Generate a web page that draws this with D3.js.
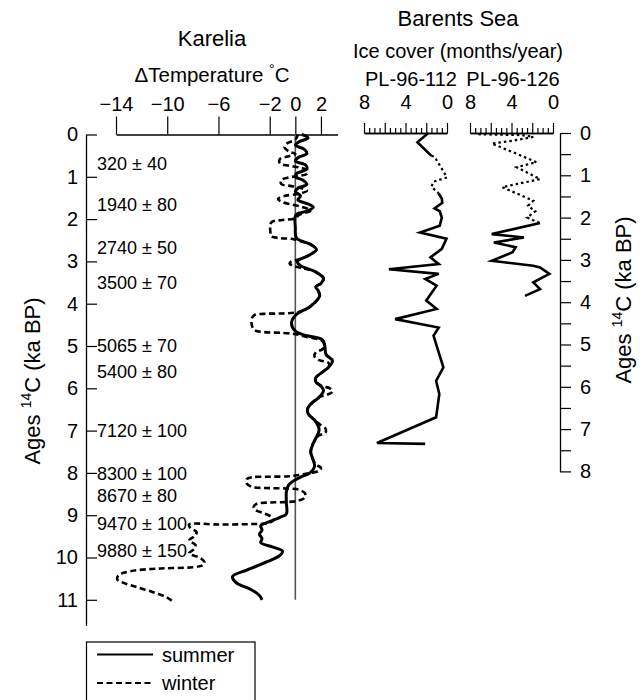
<!DOCTYPE html>
<html><head><meta charset="utf-8">
<script src="https://cdn.jsdelivr.net/npm/d3@7"></script>
<style>
body{margin:0;background:#fff;}
svg text{font-family:"Liberation Sans",Arial,Helvetica,sans-serif;fill:#000;}
</style></head>
<body><svg id="c" width="643" height="700"></svg>
<script>
// ---------- DATA ----------
const tempTicks = [-14, -10, -6, -2, 0, 2];
const ageTicksLeft = [0,1,2,3,4,5,6,7,8,9,10,11];
const ageTicksRight = [0,1,2,3,4,5,6,7,8];
const iceMajorTicks = [8, 6, 4, 2, 0];
const iceLabelTicks = [8, 4, 0];

const dateLabels = ["320 ± 40","1940 ± 80","2740 ± 50","3500 ± 70","5065 ± 70","5400 ± 80","7120 ± 100","8300 ± 100","8670 ± 80","9470 ± 100","9880 ± 150"];
const dateAges = [0.68, 1.65, 2.68, 3.5, 5.0, 5.6, 7.0, 8.02, 8.55, 9.2, 9.85];

const summerAge = [0.00,0.08,0.17,0.25,0.35,0.45,0.55,0.63,0.72,0.82,0.92,1.00,1.08,1.18,1.27,1.35,1.45,1.55,1.62,1.72,1.82,1.90,2.20,2.45,2.60,2.72,2.85,3.00,3.10,3.25,3.40,3.52,3.60,3.70,3.82,3.95,4.10,4.25,4.45,4.65,4.75,4.85,5.00,5.20,5.35,5.50,5.62,5.75,5.85,5.95,6.05,6.20,6.32,6.45,6.60,6.75,6.90,7.00,7.15,7.30,7.50,7.70,7.85,8.00,8.10,8.20,8.30,8.45,8.70,8.97,9.05,9.13,9.25,9.35,9.45,9.55,9.65,9.75,9.85,9.95,10.10,10.30,10.45,10.60,10.75,10.90,11.00];
const summerTemp = [0.5,1.0,0.3,0.0,0.7,0.9,0.2,0.0,0.8,0.9,0.1,0.0,0.6,0.9,0.2,0.0,0.4,0.2,0.8,1.4,0.8,0.05,0.0,0.1,1.2,1.65,1.1,0.15,0.4,1.6,2.2,2.0,1.6,1.8,1.9,1.6,1.0,0.1,-0.3,0.0,0.8,2.1,2.3,2.4,2.9,2.6,2.1,1.6,1.6,2.0,2.2,1.9,1.4,1.0,1.0,1.5,1.8,1.85,1.65,1.4,1.2,1.4,1.5,1.15,0.4,-0.2,-0.55,-0.7,-0.7,-0.7,-1.2,-1.8,-2.7,-2.6,-2.8,-2.6,-2.7,-1.8,-1.0,-1.2,-2.2,-3.8,-4.9,-4.6,-3.5,-2.8,-2.6];

const winterAge = [0.00,0.12,0.20,0.30,0.40,0.46,0.52,0.58,0.68,0.74,0.78,0.85,0.93,0.98,1.02,1.08,1.17,1.22,1.27,1.33,1.40,1.45,1.52,1.60,1.66,1.72,1.80,1.90,1.98,2.02,2.06,2.12,2.30,2.40,2.45,2.47,2.50,2.60,2.72,2.85,2.95,3.00,3.05,3.10,3.15,3.25,3.40,3.52,3.60,3.70,3.82,3.95,4.10,4.20,4.23,4.24,4.27,4.35,4.50,4.62,4.67,4.69,4.72,4.78,4.88,5.00,5.08,5.15,5.25,5.33,5.40,5.50,5.62,5.75,5.85,5.95,6.00,6.08,6.15,6.20,6.32,6.45,6.60,6.75,6.85,6.95,7.05,7.12,7.30,7.50,7.70,7.80,7.88,7.95,8.00,8.05,8.08,8.09,8.10,8.15,8.25,8.33,8.36,8.37,8.40,8.48,8.58,8.66,8.69,8.70,8.73,8.80,8.88,8.95,9.03,9.10,9.18,9.21,9.22,9.22,9.30,9.40,9.50,9.60,9.70,9.80,9.90,10.00,10.10,10.18,10.23,10.26,10.32,10.42,10.52,10.60,10.70,10.82,10.94,11.03];
const winterTemp = [0.2,0.0,-0.6,-0.85,-0.5,0.0,-0.6,-1.2,-1.2,-0.5,0.3,0.95,0.9,0.2,-0.6,-1.1,-1.1,-0.3,0.5,0.9,0.3,-0.8,-1.35,-1.0,-0.2,0.6,1.2,0.3,0.0,-1.0,-1.8,-1.95,-1.95,-1.9,-1.2,-0.2,0.1,1.2,1.65,1.1,0.3,-0.3,-0.45,-0.2,0.4,1.6,2.2,2.0,1.6,1.8,1.9,1.6,1.0,0.2,-1.0,-2.5,-3.2,-3.4,-3.4,-3.2,-2.5,-1.0,0.0,0.8,2.1,2.3,2.1,1.6,1.5,1.8,2.6,2.6,2.1,1.6,1.6,2.1,2.7,2.9,2.5,1.9,1.4,1.0,1.0,1.5,1.9,2.35,2.35,1.8,1.4,1.2,1.4,1.6,2.0,1.9,1.2,0.3,-0.5,-2.0,-3.3,-3.8,-3.8,-3.4,-2.0,-0.5,0.3,0.75,0.75,0.2,-0.8,-2.0,-3.0,-3.25,-3.1,-2.5,-1.9,-1.7,-2.0,-3.5,-6.0,-8.3,-8.2,-7.7,-7.9,-8.3,-7.8,-7.9,-8.3,-7.5,-7.1,-7.2,-8.0,-10.5,-12.8,-13.8,-13.9,-13.4,-12.4,-11.1,-10.05,-9.6];

const pl112SolidAAge = [0.00, 0.22, 0.54];
const pl112SolidAIce = [1.8, 2.85, 1.5];
const pl112DotAge = [0.54, 0.56, 1.05, 1.15, 1.27, 1.43];
const pl112DotIce = [1.5, 1.2, 0.0, 1.3, 1.5, 0.8];
const pl112SolidBAge = [1.43,1.55,1.65,1.78,1.85,2.00,2.19,2.35,2.50,2.74,2.94,3.10,3.22,3.33,3.45,3.61,3.96,4.16,4.40,4.60,4.79,5.54,5.86,6.17,6.72,7.33,7.35];
const pl112SolidBIce = [0.8,0.5,0.45,1.2,0.7,0.5,0.7,2.6,0.05,0.5,1.6,0.8,5.6,0.8,2.1,1.0,2.0,1.0,5.0,0.8,1.3,0.35,1.05,0.74,1.05,6.75,2.1];

const pl126DotAge = [0.03,0.05,0.09,0.18,0.25,0.46,0.69,0.81,1.09,1.28,1.60,1.72,1.85,2.00,2.13];
const pl126DotIce = [7.2,3.0,1.9,3.8,5.9,3.8,1.6,3.5,1.25,4.9,1.9,2.4,1.7,2.5,1.25];
const pl126SolidAge = [2.13,2.39,2.47,2.59,2.70,2.82,3.02,3.14,3.18,3.33,3.53,3.69,3.85];
const pl126SolidIce = [1.25,5.9,2.8,5.7,3.6,3.9,5.9,1.9,1.25,0.35,1.9,1.25,2.7];

// ---------- SCALES ----------
const svg = d3.select("#c");
const ageY = d3.scaleLinear().domain([0, 11.6]).range([134.5, 134.5 + 11.6 * 42.3]);
const ageYR = d3.scaleLinear().domain([0, 8]).range([ageY(0) - 1.5, ageY(8) - 1.5]);
const tempX = d3.scaleLinear().domain([-14, 3.3]).range([116, 337.6]);
const ice1X = d3.scaleLinear().domain([8, 0]).range([364, 447]);
const ice2X = d3.scaleLinear().domain([8, 0]).range([470, 553]);

const FS_TICK = 20;

function styleAxis(g, fs) {
  g.selectAll("path.domain").attr("stroke", "#000").attr("stroke-width", 1.3);
  g.selectAll(".tick line").attr("stroke", "#000").attr("stroke-width", 1.2);
  g.selectAll("text").attr("font-size", fs).attr("font-family", null).attr("fill", "#000");
}

// ---------- LEFT AGE AXIS ----------
const gL = svg.append("g").attr("transform", "translate(86,0)")
  .call(d3.axisLeft(ageY).tickValues(ageTicksLeft).tickSize(-11).tickSizeOuter(0).tickPadding(8).tickFormat(d3.format("d")));
styleAxis(gL, FS_TICK);

// ---------- TEMPERATURE AXIS ----------
const gT = svg.append("g").attr("transform", "translate(0,134.5)")
  .call(d3.axisTop(tempX).tickValues(tempTicks).tickSize(18).tickSizeOuter(0).tickPadding(6));
styleAxis(gT, FS_TICK);

// zero line
svg.append("line")
  .attr("x1", tempX(0)).attr("x2", tempX(0))
  .attr("y1", ageY(0)).attr("y2", ageY(11))
  .attr("stroke", "#555").attr("stroke-width", 1.6);

// titles
svg.append("text").attr("x", 212).attr("y", 46).attr("text-anchor", "middle").attr("font-size", 22).text("Karelia");
const tt = svg.append("text").attr("x", 212).attr("y", 82).attr("text-anchor", "middle").attr("font-size", 20.5);
tt.append("tspan").text("ΔTemperature ");
tt.append("tspan").attr("font-size", 14).attr("dy", -8).text("°");
tt.append("tspan").attr("dy", 8).text("C");

// date labels
svg.append("g").selectAll("text").data(dateLabels).join("text")
  .attr("x", 97).attr("y", (d, i) => ageY(dateAges[i])).attr("dy", "0.35em")
  .attr("font-size", 18).text(d => d);

// Karelia curves
const kLine = d3.line().curve(d3.curveCatmullRom.alpha(0.5));
const winterPts = winterAge.map((a, i) => [tempX(winterTemp[i]), ageY(a)]);
const summerPts = summerAge.map((a, i) => [tempX(summerTemp[i]), ageY(a)]);
svg.append("path").attr("d", kLine(winterPts)).attr("fill", "none")
  .attr("stroke", "#000").attr("stroke-width", 2.6).attr("stroke-dasharray", "6,3.5");
svg.append("path").attr("d", kLine(summerPts)).attr("fill", "none")
  .attr("stroke", "#000").attr("stroke-width", 3);

// left axis title
const lt = svg.append("text").attr("transform", `translate(40,${381}) rotate(-90)`).attr("text-anchor", "middle").attr("font-size", 22);
lt.append("tspan").text("Ages ");
lt.append("tspan").attr("font-size", 14).attr("dy", -9).text("14");
lt.append("tspan").attr("dy", 9).text("C (ka BP)");

// ---------- BARENTS SEA ----------
svg.append("text").attr("x", 458).attr("y", 26).attr("text-anchor", "middle").attr("font-size", 22).text("Barents Sea");
svg.append("text").attr("x", 458).attr("y", 58).attr("text-anchor", "middle").attr("font-size", 20).text("Ice cover (months/year)");
svg.append("text").attr("x", 411).attr("y", 86).attr("text-anchor", "middle").attr("font-size", 20).text("PL-96-112");
svg.append("text").attr("x", 513).attr("y", 86).attr("text-anchor", "middle").attr("font-size", 20).text("PL-96-126");

function iceAxis(scale) {
  const minor = d3.range(0, 8.01, 0.5).filter(v => v % 2 !== 0);
  const g1 = svg.append("g").attr("transform", "translate(0,133)")
    .call(d3.axisTop(scale).tickValues(minor).tickSize(5).tickSizeOuter(0).tickFormat(""));
  styleAxis(g1, FS_TICK);
  const g2 = svg.append("g").attr("transform", "translate(0,133)")
    .call(d3.axisTop(scale).tickValues(iceMajorTicks).tickSize(10).tickSizeOuter(0).tickPadding(14)
      .tickFormat(d => iceLabelTicks.includes(d) ? d3.format("d")(d) : ""));
  styleAxis(g2, FS_TICK);
}
iceAxis(ice1X);
iceAxis(ice2X);

const bLine = d3.line();
function drawIce(scale, ages, ice, dotted) {
  const pts = ages.map((a, i) => [scale(ice[i]), ageYR(a)]);
  svg.append("path").attr("d", bLine(pts)).attr("fill", "none").attr("stroke", "#000")
    .attr("stroke-width", dotted ? 2.2 : 2.6).attr("stroke-linejoin", "miter")
    .attr("stroke-dasharray", dotted ? "2.5,3" : null);
}
drawIce(ice1X, pl112SolidAAge, pl112SolidAIce, false);
drawIce(ice1X, pl112DotAge, pl112DotIce, true);
drawIce(ice1X, pl112SolidBAge, pl112SolidBIce, false);
drawIce(ice2X, pl126DotAge, pl126DotIce, true);
drawIce(ice2X, pl126SolidAge, pl126SolidIce, false);

// right axis
const rTicks = d3.range(0, 8.01, 0.5);
const gR = svg.append("g").attr("transform", "translate(560,0)")
  .call(d3.axisRight(ageYR).tickValues(rTicks).tickSize(11).tickSizeOuter(0).tickPadding(9)
    .tickFormat(d => Number.isInteger(d) ? d3.format("d")(d) : ""));
styleAxis(gR, FS_TICK);

const rt = svg.append("text").attr("transform", `translate(631,300) rotate(-90)`).attr("text-anchor", "middle").attr("font-size", 22);
rt.append("tspan").text("Ages ");
rt.append("tspan").attr("font-size", 14).attr("dy", -9).text("14");
rt.append("tspan").attr("dy", 9).text("C (ka BP)");

// ---------- LEGEND ----------
const lg = svg.append("g");
lg.append("rect").attr("x", 86.5).attr("y", 642).attr("width", 168.5).attr("height", 70)
  .attr("fill", "none").attr("stroke", "#000").attr("stroke-width", 1.2);
const legendItems = [{name: "summer", dash: null}, {name: "winter", dash: "6,3.5"}];
legendItems.forEach((it, i) => {
  const y = 654.5 + i * 28.5;
  lg.append("line").attr("x1", 97).attr("x2", 153).attr("y1", y).attr("y2", y)
    .attr("stroke", "#000").attr("stroke-width", 2.2).attr("stroke-dasharray", it.dash);
  lg.append("text").attr("x", 162).attr("y", y).attr("dy", "0.35em").attr("font-size", 20).text(it.name);
});
</script></body></html>
